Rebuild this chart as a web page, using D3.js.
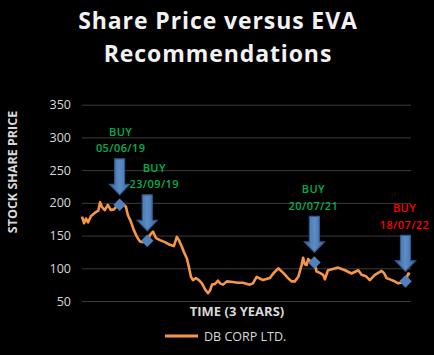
<!DOCTYPE html>
<html>
<head>
<meta charset="utf-8">
<script src="https://cdn.jsdelivr.net/npm/d3@7/dist/d3.min.js"></script>
<style>
  html, body { margin: 0; padding: 0; background: #000; }
  svg { display: block; }
</style>
</head>
<body>
<svg id="chart" width="434" height="355"></svg>
<script>
// ---- data ----
const dates = [
  "2019-01-06","2019-01-14","2019-01-22","2019-01-30","2019-02-11","2019-02-27","2019-03-12","2019-03-19","2019-03-26",
  "2019-04-07","2019-04-19","2019-05-01","2019-05-13","2019-05-25","2019-06-05","2019-06-14","2019-06-30",
  "2019-07-08","2019-07-20","2019-08-01","2019-08-13","2019-08-25","2019-09-06","2019-09-23","2019-10-04",
  "2019-10-16","2019-10-28","2019-11-13","2019-12-02","2019-12-22","2020-01-07","2020-01-19","2020-01-27",
  "2020-02-08","2020-02-16","2020-02-28","2020-03-07","2020-03-15","2020-03-23","2020-04-04","2020-04-16",
  "2020-04-28","2020-05-10","2020-05-22","2020-05-30","2020-06-07","2020-06-19","2020-07-01","2020-07-09",
  "2020-07-21","2020-08-05","2020-08-29","2020-09-18","2020-10-08","2020-11-05","2020-11-17","2020-12-02",
  "2020-12-27","2021-01-24","2021-02-06","2021-02-26","2021-03-18","2021-04-06","2021-04-20","2021-05-03",
  "2021-05-17","2021-05-30","2021-06-05","2021-06-12","2021-06-19","2021-06-25","2021-07-06","2021-07-20",
  "2021-07-29","2021-08-11","2021-08-24","2021-08-31","2021-09-12","2021-10-02","2021-10-22","2021-11-19",
  "2021-12-15","2022-01-11","2022-01-24","2022-02-10","2022-02-26","2022-03-18","2022-04-14","2022-04-23",
  "2022-05-04","2022-05-17","2022-05-30","2022-06-19","2022-06-30","2022-07-18","2022-07-29","2022-08-05"
];
const prices = [
  179,169,176,170,180,185,188,201,194,
  189,197,189,190,195,197,199,194,
  181,171,158,148,141,140,142,151,
  156,146,143,140,136,134,148,143,
  133,125,115,102,87,82,85,82,
  77,68,62,66,75,76,81,77,
  75,80,79,78,78,75,77,87,
  82,85,92,100,93,85,80,80,
  87,105,116,106,105,114,110,108,
  95,93,90,83,97,99,101,97,
  92,97,90,88,82,90,96,93,
  85,83,81,77,78,80,92,91
];
const buyDates = ["2019-06-05","2019-09-23","2021-07-20","2022-07-18"];
const buyPrices = [197,142,109,80];
const buyLabels = ["05/06/19","23/09/19","20/07/21","18/07/22"];
const buyWord = "BUY";
const yTicks = [50,100,150,200,250,300,350];
const seriesName = "DB CORP LTD.";
const titleLines = ["Share Price versus EVA","Recommendations"];
const yTitle = "STOCK SHARE PRICE";
const xTitle = "TIME (3 YEARS)";

// ---- layout ----
const parse = d3.timeParse("%Y-%m-%d");
const FONT = "'Open Sans', sans-serif";
const TXT = "#d9d9d9";
const svg = d3.select("#chart");
const plot = {left: 82, right: 411, top: 104.7, bottom: 301};

const x = d3.scaleTime()
  .domain(d3.extent(dates, parse))
  .range([plot.left, 410]);
const y = d3.scaleLinear().domain([50, 350]).range([plot.bottom, plot.top]);

// title
svg.append("g").selectAll("text").data(titleLines).join("text")
  .attr("x", 218).attr("y", (d, i) => 29 + i * 32.5)
  .attr("text-anchor", "middle")
  .attr("fill", "#f2f2f2")
  .style("font-family", FONT).style("font-weight", 700).style("font-size", "23px")
  .style("letter-spacing", "0.9px")
  .text(d => d);

// y axis with gridlines
const yAxis = svg.append("g")
  .attr("transform", `translate(${plot.left},0)`)
  .call(d3.axisLeft(y).tickValues(yTicks).tickSize(-(plot.right - plot.left)).tickPadding(11));
yAxis.select(".domain").remove();
yAxis.selectAll(".tick line").attr("stroke", "#3b3b3b").attr("stroke-width", 1);
yAxis.selectAll(".tick text")
  .attr("fill", TXT)
  .style("font-family", FONT).style("font-size", "12.5px");

// y title
svg.append("text")
  .attr("transform", "translate(16.5,172) rotate(-90)")
  .attr("text-anchor", "middle")
  .attr("fill", TXT)
  .style("font-family", FONT).style("font-weight", 700).style("font-size", "12.5px")
  .text(yTitle);

// x title
svg.append("text")
  .attr("x", 237).attr("y", 316)
  .attr("text-anchor", "middle")
  .attr("fill", TXT)
  .style("font-family", FONT).style("font-weight", 700).style("font-size", "13px")
  .text(xTitle);

// line
const series = dates.map((d, i) => ({date: parse(d), v: prices[i]}));
svg.append("path")
  .datum(series)
  .attr("fill", "none")
  .attr("stroke", "#F79646")
  .attr("stroke-width", 2.6)
  .attr("stroke-linejoin", "round")
  .attr("d", d3.line().x(d => x(d.date)).y(d => y(d.v)));

// buy markers
const buys = buyDates.map((d, i) => ({date: parse(d), v: buyPrices[i], label: buyLabels[i], i}));
const labelDx = [1, 7, -1, -1];
const defs = svg.append("defs");
const grad = defs.append("linearGradient").attr("id", "arrowGrad").attr("x1", 0).attr("x2", 1).attr("y1", 0).attr("y2", 0);
grad.append("stop").attr("offset", "0%").attr("stop-color", "#3e6aa0");
grad.append("stop").attr("offset", "50%").attr("stop-color", "#5b8cc6");
grad.append("stop").attr("offset", "100%").attr("stop-color", "#3e6aa0");

const g = svg.append("g").selectAll("g").data(buys).join("g")
  .attr("transform", d => `translate(${x(d.date)},${y(d.v)})`);

g.append("path")
  .attr("d", "M-5,-46 L5,-46 L5,-20.5 L10,-20.5 L0,-10 L-10,-20.5 L-5,-20.5 Z")
  .attr("fill", "url(#arrowGrad)")
  .attr("stroke", "#34588a")
  .attr("stroke-width", 1.2)
  .attr("stroke-linejoin", "miter");

g.append("path")
  .attr("d", d3.symbol().type(d3.symbolDiamond2).size(100))
  .attr("fill", "#4F81BD");

const lab = g.append("g")
  .attr("transform", d => `translate(${labelDx[d.i]},0)`)
  .attr("fill", d => d.i === buys.length - 1 ? "#ff0000" : "#00b050")
  .style("font-family", FONT).style("font-weight", 600).style("font-size", "11px")
  .attr("text-anchor", "middle")
  .style("letter-spacing", "0.4px");
lab.append("text").attr("y", -69).text(buyWord);
lab.append("text").attr("y", -52.5).text(d => d.label);

// legend
svg.append("line")
  .attr("x1", 165).attr("x2", 198).attr("y1", 336).attr("y2", 336)
  .attr("stroke", "#F79646").attr("stroke-width", 3.2);
svg.append("text")
  .attr("x", 204).attr("y", 340.5)
  .attr("fill", TXT)
  .style("font-family", FONT).style("font-size", "12.5px")
  .text(seriesName);
</script>
</body>
</html>
